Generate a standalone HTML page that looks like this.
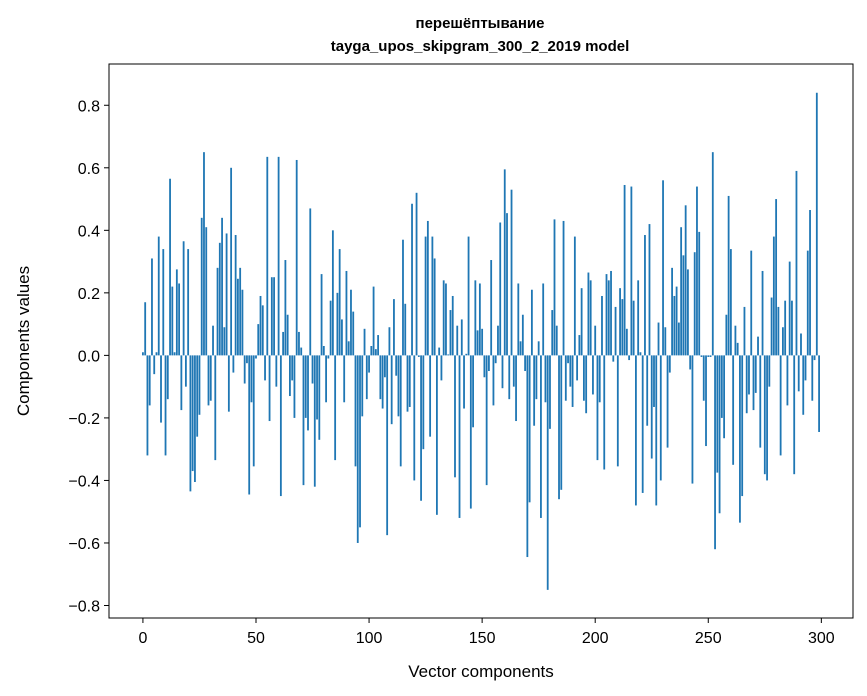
<!DOCTYPE html>
<html><head><meta charset="utf-8">
<style>
body{margin:0;background:#fff;}
svg{display:block;font-family:"Liberation Sans","DejaVu Sans",sans-serif;}
</style></head>
<body>
<svg id="chart" width="867" height="696" viewBox="0 0 867 696">
<rect width="867" height="696" fill="#fff"/>
<text x="480" y="28" text-anchor="middle" font-size="15" font-weight="bold">перешёптывание</text>
<text x="480" y="51" text-anchor="middle" font-size="15" font-weight="bold">tayga_upos_skipgram_300_2_2019 model</text>
<g id="bars"></g>
<g id="xticks"></g>
<g id="yticks"></g>
<rect x="109" y="64" width="744" height="554" fill="none" stroke="#000" stroke-width="1"/>
<text x="481" y="677" text-anchor="middle" font-size="17">Vector components</text>
<text transform="translate(29,341) rotate(-90)" text-anchor="middle" font-size="17">Components values</text>
</svg>
<script>
const values = [
0.01,0.17,-0.32,-0.16,0.31,-0.06,0.01,0.38,-0.215,0.34,
-0.32,-0.14,0.565,0.22,0.01,0.275,0.23,-0.175,0.365,-0.1,
0.34,-0.435,-0.37,-0.405,-0.26,-0.19,0.44,0.65,0.41,-0.16,
-0.145,0.095,-0.335,0.28,0.36,0.44,0.09,0.39,-0.18,0.6,
-0.055,0.385,0.245,0.28,0.21,-0.09,-0.025,-0.445,-0.15,-0.355,
-0.01,0.1,0.19,0.16,-0.08,0.635,-0.21,0.25,0.25,-0.1,
0.635,-0.45,0.075,0.305,0.13,-0.13,-0.08,-0.2,0.625,0.075,
0.025,-0.415,-0.2,-0.24,0.47,-0.09,-0.42,-0.205,-0.27,0.26,
0.03,-0.15,-0.01,0.175,0.4,-0.335,0.2,0.34,0.115,-0.15,
0.27,0.045,0.21,0.14,-0.355,-0.6,-0.55,-0.195,0.085,-0.14,
-0.055,0.03,0.22,0.02,0.065,-0.14,-0.17,-0.07,-0.575,0.09,
-0.22,0.18,-0.065,-0.195,-0.355,0.37,0.165,-0.18,-0.165,0.485,
-0.4,0.52,-0.005,-0.465,-0.3,0.38,0.43,-0.26,0.38,0.31,
-0.51,0.025,-0.08,0.24,0.23,0.003,0.145,0.19,-0.39,0.095,
-0.52,0.115,-0.17,0.005,0.38,-0.49,-0.23,0.24,0.08,0.23,
0.085,-0.07,-0.415,-0.05,0.305,-0.16,-0.025,0.095,0.425,-0.105,
0.595,0.455,-0.14,0.53,-0.1,-0.21,0.23,0.045,0.13,-0.05,
-0.645,-0.47,0.21,-0.225,-0.14,0.045,-0.52,0.23,-0.15,-0.75,
-0.235,0.145,0.435,0.095,-0.46,-0.43,0.43,-0.145,-0.025,-0.1,
-0.165,0.38,-0.08,0.065,0.215,-0.145,-0.185,0.265,0.24,-0.125,
0.095,-0.335,-0.15,0.19,-0.365,0.26,0.24,0.27,-0.02,0.155,
-0.355,0.215,0.18,0.545,0.085,-0.015,0.54,0.175,-0.48,0.24,
0.01,-0.44,0.385,-0.225,0.42,-0.33,-0.165,-0.48,0.105,-0.4,
0.56,0.09,-0.295,-0.055,0.28,0.19,0.22,0.105,0.41,0.32,
0.48,0.275,-0.045,-0.41,0.33,0.54,0.395,-0.005,-0.145,-0.29,
-0.005,-0.005,0.65,-0.62,-0.375,-0.505,-0.2,-0.265,0.13,0.51,
0.34,-0.35,0.095,0.04,-0.535,-0.45,0.155,-0.185,-0.125,0.335,
-0.175,-0.12,0.06,-0.295,0.27,-0.38,-0.4,-0.1,0.185,0.38,
0.5,0.155,-0.32,0.09,0.175,-0.16,0.3,0.175,-0.38,0.59,
-0.115,0.07,-0.19,-0.08,0.335,0.465,-0.145,-0.015,0.84,-0.245
];
const xTickLabels = [0,50,100,150,200,250,300];
const yTickLabels = [-0.8,-0.6,-0.4,-0.2,0.0,0.2,0.4,0.6,0.8];
const NS = "http://www.w3.org/2000/svg";
const xMin=-15, xMax=314, yMin=-0.84, yMax=0.932;
const L=109, R=853, T=64, B=618;
function xs(v){return L+(v-xMin)/(xMax-xMin)*(R-L);}
function ys(v){return B-(v-yMin)/(yMax-yMin)*(B-T);}
const bars=document.getElementById('bars');
values.forEach((v,i)=>{
  const r=document.createElementNS(NS,'rect');
  const x0=xs(i-0.4), x1=xs(i+0.4);
  const y0=ys(Math.max(v,0)), y1=ys(Math.min(v,0));
  r.setAttribute('x',x0);r.setAttribute('width',x1-x0);
  r.setAttribute('y',y0);r.setAttribute('height',Math.max(y1-y0,0.3));
  r.setAttribute('fill','#1f77b4');
  
  
  bars.appendChild(r);
});
const xt=document.getElementById('xticks');
xTickLabels.forEach(t=>{
  const x=xs(t);
  const l=document.createElementNS(NS,'line');
  l.setAttribute('x1',x);l.setAttribute('x2',x);l.setAttribute('y1',B);l.setAttribute('y2',B+5);l.setAttribute('stroke','#000');
  
  
  xt.appendChild(l);
  const tx=document.createElementNS(NS,'text');
  tx.setAttribute('x',x);tx.setAttribute('y',B+25);tx.setAttribute('text-anchor','middle');tx.setAttribute('font-size','16');
  tx.textContent=t;
  
  
  xt.appendChild(tx);
});
const yt=document.getElementById('yticks');
yTickLabels.forEach(t=>{
  const y=ys(t);
  const l=document.createElementNS(NS,'line');
  l.setAttribute('x1',L-5);l.setAttribute('x2',L);l.setAttribute('y1',y);l.setAttribute('y2',y);l.setAttribute('stroke','#000');
  
  
  yt.appendChild(l);
  const tx=document.createElementNS(NS,'text');
  tx.setAttribute('x',L-9);tx.setAttribute('y',y+6);tx.setAttribute('text-anchor','end');tx.setAttribute('font-size','16');
  tx.textContent=(t<0?'\u2212':'')+Math.abs(t).toFixed(1);
  
  
  yt.appendChild(tx);
});
</script>
</body></html>
